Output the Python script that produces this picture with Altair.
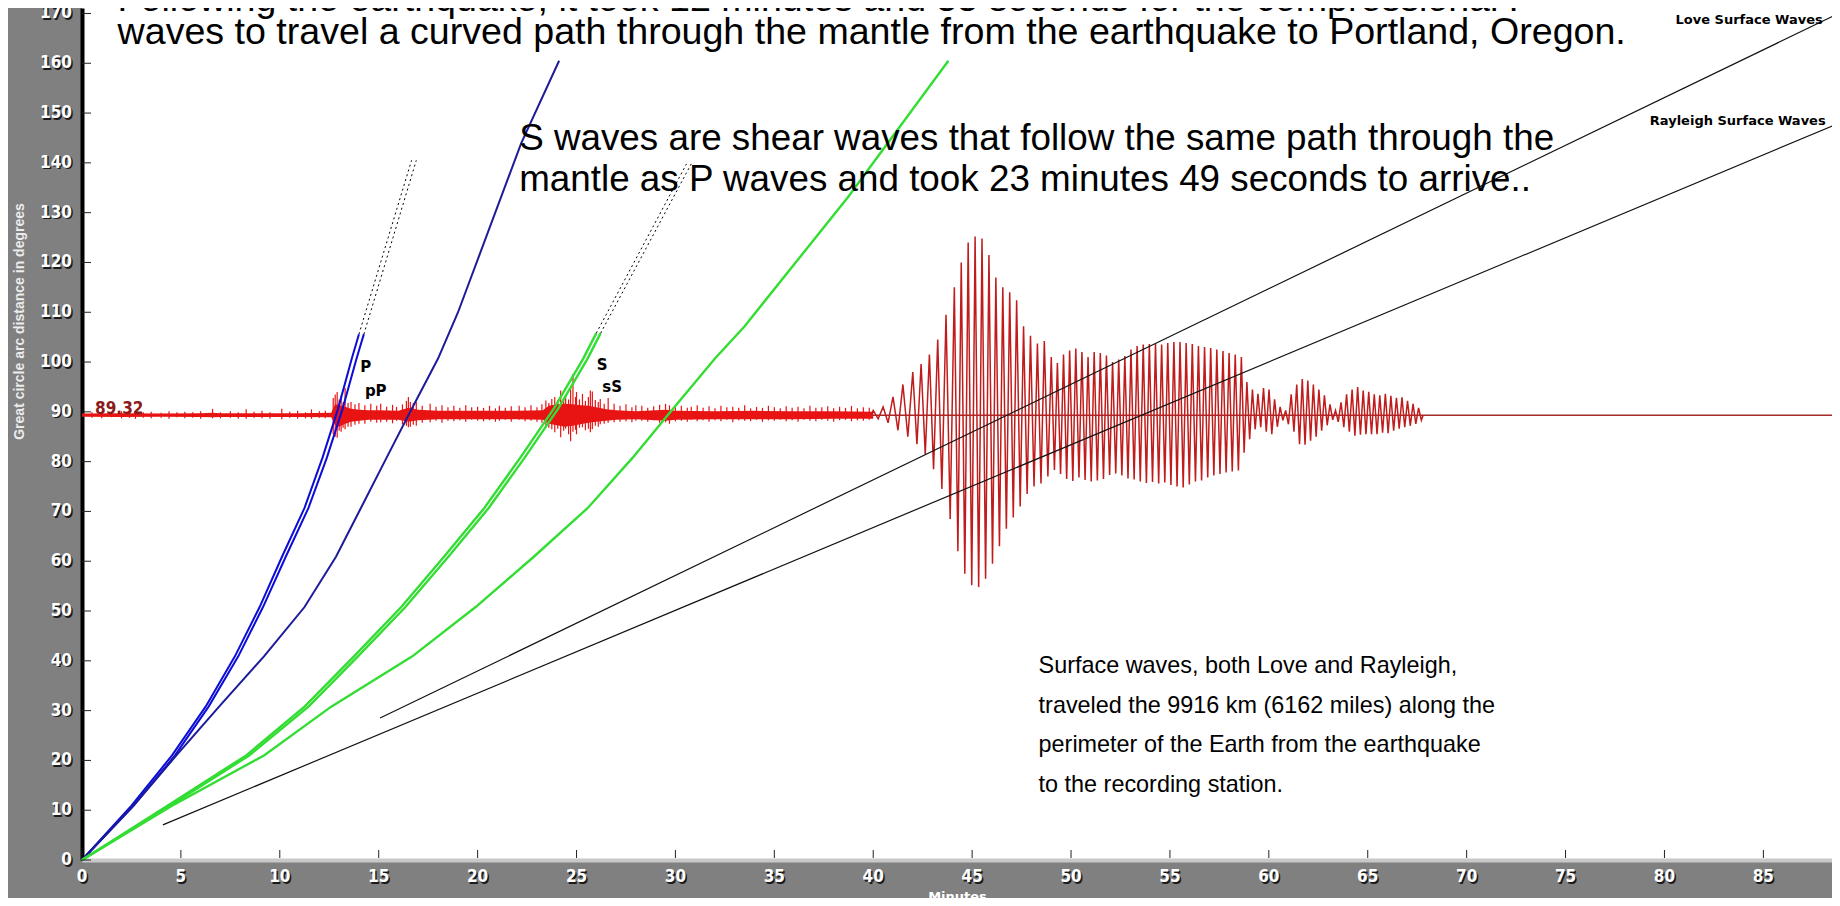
import altair as alt
import pandas as pd

W, H = 1750, 852
X_MAX, Y_MAX = 88.47, 171.1
COND = "DejaVu Sans Condensed, DejaVu Sans, sans-serif"
ARIAL = "Liberation Sans, Arial, sans-serif"
UI = "DejaVu Sans, Verdana, sans-serif"

x_ticks = [0, 5, 10, 15, 20, 25, 30, 35, 40, 45, 50, 55, 60, 65, 70, 75, 80, 85]
y_ticks = [0, 10, 20, 30, 40, 50, 60, 70, 80, 90, 100, 110, 120, 130, 140, 150, 160, 170]

# travel-time curves (minutes, degrees)
P_t = [0, 2.5, 4.55, 6.25, 7.73, 8.98, 10.11, 11.25, 12.16, 12.95, 13.64, 14.0]
P_d = [0, 10.9, 21.0, 30.8, 40.9, 50.8, 60.9, 70.7, 80.8, 90.7, 100.7, 105.6]
pP_t = [0, 2.6, 4.7, 6.4, 7.9, 9.15, 10.3, 11.45, 12.38, 13.18, 13.88, 14.25]
pP_d = [0, 10.9, 21.0, 30.8, 40.9, 50.8, 60.9, 70.7, 80.8, 90.7, 100.7, 105.6]
PP_t = [0, 2.6, 4.77, 6.93, 9.2, 11.25, 12.84, 14.1, 15.4, 16.5, 18.0, 19.0, 22.2, 24.12]
PP_d = [0, 10.9, 21.0, 30.8, 40.9, 50.8, 60.9, 70.7, 80.8, 89.3, 100.7, 109.9, 143.9, 160.5]
S_t = [0, 4.32, 8.3, 11.25, 13.75, 16.14, 18.3, 20.34, 22.16, 23.86, 25.34, 26.0]
S_d = [0, 10.9, 21.0, 30.8, 40.9, 50.8, 60.9, 70.7, 80.8, 90.7, 100.7, 105.8]
sS_t = [0, 4.45, 8.45, 11.45, 13.95, 16.35, 18.52, 20.56, 22.38, 24.08, 25.56, 26.22]
sS_d = [0, 10.9, 21.0, 30.8, 40.9, 50.8, 60.9, 70.7, 80.8, 90.7, 100.7, 105.8]
SS_t = [0, 4.55, 9.2, 12.6, 16.7, 19.9, 22.84, 25.57, 27.84, 29.9, 32.0, 33.5, 38.7, 43.8]
SS_d = [0, 10.9, 21.0, 30.8, 40.9, 50.8, 60.9, 70.7, 80.8, 90.7, 100.7, 107.2, 133.0, 160.5]

# dotted continuations (shadow zone)
Pdot_a_t, Pdot_a_d = [14.0, 16.66], [105.6, 140.5]
Pdot_b_t, Pdot_b_d = [14.25, 16.9], [105.6, 140.5]
Sdot_a_t, Sdot_a_d = [26.0, 30.56], [105.8, 139.8]
Sdot_b_t, Sdot_b_d = [26.22, 30.8], [105.8, 139.8]

# surface-wave lines
love_t, love_d = [15.07, 88.9], [28.5, 170.2]
ray_t, ray_d = [4.09, 88.9], [7.05, 148.1]

# seismogram
station_deg = 89.32
noise_t = [0, 2, 4, 6, 6.6, 7, 9, 11, 12.6, 12.8, 13.0, 13.3, 13.6, 14.0, 14.5, 15, 16, 16.5, 17, 18,
           20, 22, 23.3, 23.6, 24.0, 24.4, 24.8, 25.2, 25.6, 26.0, 26.5, 27, 28, 29.5, 30, 32, 34, 36, 38, 40]
noise_hi = [89.65, 89.7, 89.65, 89.7, 89.8, 89.7, 89.7, 89.7, 89.8, 91.5, 91.3, 91.0, 90.6, 90.4, 90.3, 90.3,
            90.2, 90.8, 90.4, 90.2, 90.2, 90.2, 90.3, 91.2, 91.5, 91.6, 91.5, 91.3, 91.2, 90.9, 90.5, 90.3,
            90.1, 90.4, 90.2, 90.1, 90.2, 90.1, 90.1, 90.0]
noise_lo = [89.0, 88.95, 89.0, 88.95, 88.9, 88.95, 88.95, 88.95, 88.9, 87.3, 87.0, 87.6, 88.0, 88.2, 88.4, 88.4,
            88.4, 88.0, 88.3, 88.5, 88.5, 88.5, 88.4, 87.6, 87.3, 87.0, 87.2, 87.5, 87.8, 88.0, 88.2, 88.4,
            88.5, 88.2, 88.4, 88.5, 88.5, 88.5, 88.6, 88.6]
spikes = [
    (0.5, 89.9, 88.8), (1.0, 90.0, 88.7), (1.5, 89.8, 88.9), (2.0, 90.1, 88.7), (2.4, 89.9, 88.8),
    (2.7, 90.2, 88.6), (3.1, 89.9, 88.8), (3.5, 90.0, 88.7), (4.0, 89.8, 88.8), (4.4, 90.1, 88.6),
    (4.8, 89.9, 88.9), (5.2, 90.0, 88.7), (5.6, 89.9, 88.8), (6.0, 90.1, 88.6), (6.6, 90.6, 88.7),
    (7.0, 89.9, 88.7), (7.5, 90.1, 88.8), (7.9, 89.9, 88.6), (8.3, 90.5, 88.6), (8.7, 90.0, 88.8),
    (9.1, 90.2, 88.7), (9.5, 89.9, 88.6), (10.1, 90.6, 88.5), (10.5, 90.0, 88.8), (10.9, 90.2, 88.6),
    (11.3, 89.9, 88.7), (11.6, 90.5, 88.6), (12.0, 90.1, 88.8), (12.3, 90.2, 88.7),
    (12.7, 92.8, 85.5), (12.8, 93.5, 85.0), (12.9, 94.0, 84.8), (13.0, 92.5, 86.2), (13.1, 93.3, 86.0),
    (13.2, 92.0, 86.8), (13.3, 94.8, 86.5), (13.45, 91.8, 87.0), (13.6, 92.0, 87.0), (13.8, 91.5, 87.4),
    (14.0, 91.8, 87.6), (14.3, 91.3, 87.6), (14.6, 91.6, 88.0), (14.9, 91.2, 87.8), (15.1, 91.6, 87.9),
    (15.4, 91.0, 88.0), (15.7, 91.4, 87.7), (15.9, 91.0, 88.2), (16.2, 91.5, 87.5), (16.4, 92.2, 87.2),
    (16.5, 93.0, 86.9), (16.6, 92.0, 87.0), (16.75, 91.8, 87.4), (16.9, 92.0, 87.2), (17.2, 91.2, 87.8),
    (17.6, 91.6, 87.9), (17.9, 91.0, 88.2), (18.2, 91.3, 87.8), (18.5, 90.9, 88.2), (18.8, 91.2, 88.1),
    (19.1, 90.8, 88.3), (19.4, 91.3, 88.0), (19.7, 90.9, 88.4), (20.0, 91.0, 88.2), (20.3, 90.8, 88.1),
    (20.6, 91.2, 88.3), (20.9, 90.7, 88.0), (21.1, 91.2, 88.2), (21.4, 90.8, 88.4), (21.7, 91.1, 88.0),
    (22.1, 91.2, 88.4), (22.4, 90.9, 88.1), (22.7, 91.3, 88.2), (23.0, 90.9, 88.0), (23.25, 91.5, 87.8),
    (23.45, 92.3, 87.2), (23.6, 91.8, 86.8), (23.75, 92.6, 86.5), (23.9, 93.0, 85.9), (24.05, 92.4, 86.6),
    (24.2, 94.3, 84.9), (24.35, 92.8, 86.2), (24.45, 93.4, 86.6), (24.6, 92.5, 85.5), (24.7, 95.0, 84.1),
    (24.82, 97.6, 86.0), (24.95, 93.0, 86.4), (25.0, 94.0, 85.5), (25.15, 92.5, 86.8), (25.3, 93.6, 86.9),
    (25.45, 92.2, 86.3), (25.6, 93.0, 86.6), (25.7, 94.3, 85.9), (25.8, 94.1, 86.5), (25.95, 92.4, 87.2),
    (26.1, 92.0, 87.0), (26.2, 92.6, 87.5), (26.4, 91.6, 87.6), (26.6, 92.8, 87.8), (26.9, 91.6, 87.9),
    (27.2, 91.2, 88.0), (27.5, 91.5, 88.1), (27.8, 90.9, 87.9), (28.0, 91.3, 88.2), (28.3, 91.2, 88.2),
    (28.6, 90.8, 88.0), (28.9, 91.1, 88.3), (29.2, 91.4, 87.8), (29.5, 91.6, 87.9), (29.7, 91.3, 87.6),
    (30.0, 90.9, 88.1), (30.3, 91.2, 88.2), (30.6, 90.8, 88.0), (30.8, 91.0, 88.4), (31.1, 91.3, 88.1),
    (31.4, 90.8, 88.3), (31.7, 91.1, 88.0), (32.0, 90.7, 88.3), (32.3, 91.2, 88.1), (32.6, 90.9, 88.4),
    (32.9, 91.0, 87.9), (33.2, 90.8, 88.3), (33.5, 91.3, 88.2), (33.8, 90.7, 88.1), (34.1, 91.0, 88.4),
    (34.4, 90.8, 88.0), (34.7, 91.2, 88.3), (35.0, 90.9, 88.2), (35.3, 90.7, 88.4), (35.6, 91.1, 88.1),
    (35.9, 90.8, 88.3), (36.2, 91.0, 88.0), (36.5, 90.7, 88.4), (36.8, 91.2, 88.2), (37.1, 90.8, 88.1),
    (37.4, 90.9, 88.4), (37.7, 91.1, 88.2), (38.0, 90.7, 88.0), (38.3, 91.0, 88.3), (38.6, 90.8, 88.4),
    (38.9, 91.2, 88.1), (39.2, 90.7, 88.3), (39.5, 90.9, 88.2), (39.8, 90.8, 88.4)]
surface_peaks = [
    (39.9, 89.32), (40.0, 90.3), (40.25, 88.6), (40.5, 91.0), (40.75, 87.8), (41.0, 93.0), (41.25, 86.3),
    (41.5, 95.5), (41.75, 85.0), (42.0, 98.0), (42.21, 83.5), (42.42, 99.6), (42.63, 81.5), (42.84, 101.5),
    (43.05, 78.5), (43.26, 104.5), (43.47, 74.5), (43.68, 109.5), (43.89, 68.5), (44.1, 115.0), (44.28, 62.0),
    (44.45, 120.0), (44.63, 57.5), (44.8, 124.0), (44.98, 55.2), (45.15, 125.2), (45.33, 54.8), (45.5, 124.8),
    (45.68, 56.5), (45.85, 121.5), (46.03, 59.5), (46.2, 117.0), (46.38, 63.0), (46.55, 115.0), (46.73, 66.5),
    (46.9, 114.0), (47.08, 68.8), (47.25, 112.4), (47.43, 71.0), (47.6, 107.2), (47.78, 73.5), (47.95, 105.3),
    (48.13, 75.0), (48.3, 103.7), (48.48, 75.6), (48.65, 104.2), (48.83, 77.0), (49.0, 101.0), (49.16, 78.3),
    (49.31, 99.8), (49.47, 77.5), (49.62, 101.5), (49.78, 76.5), (49.93, 102.3), (50.09, 76.1), (50.24, 102.7),
    (50.4, 76.8), (50.55, 102.0), (50.71, 76.3), (50.86, 101.0), (51.02, 76.0), (51.17, 102.0), (51.33, 76.2),
    (51.48, 101.8), (51.64, 76.5), (51.79, 101.3), (51.95, 77.3), (52.1, 100.0), (52.26, 77.6), (52.41, 100.5),
    (52.57, 77.2), (52.72, 101.2), (52.88, 76.6), (53.03, 102.5), (53.19, 76.4), (53.34, 103.2), (53.5, 76.0),
    (53.65, 103.5), (53.81, 75.7), (53.96, 103.6), (54.12, 75.9), (54.27, 103.7), (54.43, 75.6), (54.58, 103.5),
    (54.74, 75.8), (54.89, 103.8), (55.05, 75.3), (55.2, 104.0), (55.36, 75.0), (55.51, 104.0), (55.67, 74.8),
    (55.82, 103.8), (55.98, 75.4), (56.13, 103.6), (56.29, 76.0), (56.44, 103.2), (56.6, 76.2), (56.75, 103.0),
    (56.91, 76.8), (57.06, 102.8), (57.22, 77.2), (57.37, 102.5), (57.53, 77.5), (57.68, 102.2), (57.84, 77.8),
    (57.99, 101.8), (58.15, 78.0), (58.3, 101.5), (58.46, 78.2), (58.61, 101.0), (58.75, 81.8), (58.89, 96.0),
    (59.03, 84.5), (59.17, 94.5), (59.31, 86.5), (59.45, 93.6), (59.59, 86.9), (59.73, 94.8), (59.87, 86.0),
    (60.01, 94.5), (60.15, 85.5), (60.29, 92.5), (60.43, 87.0), (60.57, 91.0), (60.71, 88.3), (60.85, 90.3),
    (60.99, 87.5), (61.13, 93.5), (61.27, 86.0), (61.41, 95.5), (61.55, 83.5), (61.69, 96.6), (61.83, 83.4),
    (61.97, 96.3), (62.11, 84.2), (62.25, 95.5), (62.39, 85.0), (62.53, 94.5), (62.67, 86.2), (62.81, 93.3),
    (62.95, 87.3), (63.09, 91.5), (63.23, 88.4), (63.37, 90.3), (63.51, 88.0), (63.65, 91.9), (63.79, 86.9),
    (63.93, 93.5), (64.07, 86.0), (64.21, 94.5), (64.35, 85.2), (64.49, 95.0), (64.63, 85.4), (64.77, 94.3),
    (64.91, 85.5), (65.05, 94.0), (65.19, 85.5), (65.33, 93.5), (65.47, 85.5), (65.61, 93.3), (65.75, 85.8),
    (65.89, 93.6), (66.03, 85.7), (66.17, 93.2), (66.31, 86.2), (66.45, 92.8), (66.59, 86.6), (66.73, 92.9),
    (66.87, 86.9), (67.01, 92.2), (67.15, 87.2), (67.29, 91.6), (67.43, 87.6), (67.57, 90.8), (67.71, 88.3),
    (67.8, 89.32)]

# annotation texts (position in minutes / degrees)
top_lines = ["Following the earthquake, it took 12 minutes and 55 seconds for the compressional P",
             "waves to travel a curved path through the mantle from the earthquake to Portland, Oregon."]
top_t, top_d = [1.8, 1.8], [170.5, 163.9]
s_lines = ["S waves are shear waves that follow the same path through the",
           "mantle as P waves and took 23 minutes 49 seconds to arrive.."]
s_t, s_d = [22.1, 22.1], [142.6, 134.4]
surf_lines = ["Surface waves, both Love and Rayleigh,",
              "traveled the 9916 km (6162 miles) along the",
              "perimeter of the Earth from the earthquake",
              "to the recording station."]
surf_t, surf_d = [48.36, 48.36, 48.36, 48.36], [37.6, 29.6, 21.6, 13.6]
phase_labels = ["P", "pP", "S", "sS"]
phase_t, phase_d = [14.35, 14.85, 26.3, 26.8], [99.0, 94.1, 99.5, 95.0]
wave_labels = ["Love Surface Waves", "Rayleigh Surface Waves"]
wave_t, wave_d = [88.0, 88.15], [168.7, 148.4]

xs = alt.Scale(domain=[0, X_MAX], nice=False, zero=False)
ys = alt.Scale(domain=[0, Y_MAX], nice=False, zero=False)

x_axis = alt.Axis(values=x_ticks, title="Minutes", grid=False, ticks=False, labels=False,
                  domainColor="#c8c8c8", domainWidth=4, titleColor="white", titleFont=UI,
                  titleFontSize=13, titleFontWeight="bold", titleY=30, titleBaseline="top")
y_axis = alt.Axis(values=y_ticks, title="Great circle arc distance in degrees", grid=False, ticks=False,
                  labels=False, domainColor="black", domainWidth=4, titleColor="#ececec",
                  titleFont=ARIAL, titleFontSize=14, titleFontWeight="bold", titleX=-63, titleY=313,
                  titleAngle=270, titleAlign="center", titleBaseline="middle")


def XE(field="t"):
    return alt.X(f"{field}:Q", scale=xs, axis=x_axis)


def YE(field="d"):
    return alt.Y(f"{field}:Q", scale=ys, axis=y_axis)


def curve(ts, ds, color, width, dash=None, clip=False):
    df = pd.DataFrame({"t": ts, "d": ds, "i": list(range(len(ts)))})
    kw = dict(color=color, strokeWidth=width, clip=clip)
    if dash:
        kw["strokeDash"] = dash
    return alt.Chart(df).mark_line(**kw).encode(x=XE(), y=YE(), order="i:Q")


def texts(lines, ts, ds, **kw):
    df = pd.DataFrame({"t": ts, "d": ds, "txt": lines})
    return alt.Chart(df).mark_text(**kw).encode(x=XE(), y=YE(), text="txt:N")


base_df = pd.DataFrame({"t": [0.0], "t2": [X_MAX], "d": [station_deg]})
baseline = alt.Chart(base_df).mark_rule(color="#a52a2a", strokeWidth=1.5).encode(
    x=XE(), x2="t2:Q", y=YE())

noise_df = pd.DataFrame({"t": noise_t, "hi": noise_hi, "lo": noise_lo})
noise = alt.Chart(noise_df).mark_area(color="#e81414", opacity=1).encode(x=XE(), y=YE("hi"), y2="lo:Q")
spike_df = pd.DataFrame(spikes, columns=["t", "hi", "lo"])
spike = alt.Chart(spike_df).mark_rule(color="#e81414", strokeWidth=1.2).encode(x=XE(), y=YE("hi"), y2="lo:Q")
sw_df = pd.DataFrame(surface_peaks, columns=["t", "d"])
sw_df["i"] = range(len(sw_df))
surface = alt.Chart(sw_df).mark_line(color="#c01c1c", strokeWidth=1.5).encode(x=XE(), y=YE(), order="i:Q")

ytick_df = pd.DataFrame({"v": y_ticks, "txt": [str(v) for v in y_ticks]})
yticks = alt.Chart(ytick_df).mark_rule(color="#222222", strokeWidth=1).encode(
    y=YE("v"), x=alt.value(0), x2=alt.value(9))
xtick_df = pd.DataFrame({"v": x_ticks, "txt": [str(v) for v in x_ticks]})
xticks = alt.Chart(xtick_df).mark_rule(color="#222222", strokeWidth=1).encode(
    x=XE("v"), y=alt.value(H - 10), y2=alt.value(H - 2))


def tick_labels(color, shift):
    ylab = alt.Chart(ytick_df).mark_text(
        align="right", baseline="middle", font=COND, fontSize=17, fontWeight="bold", color=color,
        dx=shift, dy=shift).encode(y=YE("v"), x=alt.value(-10), text="txt:N")
    xlab = alt.Chart(xtick_df).mark_text(
        align="center", baseline="middle", font=COND, fontSize=17, fontWeight="bold", color=color,
        dx=shift, dy=shift).encode(x=XE("v"), y=alt.value(H + 17), text="txt:N")
    return [ylab, xlab]


BLUE, NAVY, GREEN = "#0c0cd8", "#1c1c9a", "#33dd33"
layers = [
    baseline, noise, spike, surface,
    curve(P_t, P_d, BLUE, 2), curve(pP_t, pP_d, BLUE, 2), curve(PP_t, PP_d, NAVY, 2),
    curve(S_t, S_d, GREEN, 2.4), curve(sS_t, sS_d, GREEN, 2.4), curve(SS_t, SS_d, GREEN, 2.4),
    curve(Pdot_a_t, Pdot_a_d, "black", 1, dash=[2, 3]), curve(Pdot_b_t, Pdot_b_d, "black", 1, dash=[2, 3]),
    curve(Sdot_a_t, Sdot_a_d, "black", 1, dash=[2, 3]), curve(Sdot_b_t, Sdot_b_d, "black", 1, dash=[2, 3]),
    curve(love_t, love_d, "#111111", 1.2, clip=True), curve(ray_t, ray_d, "#111111", 1.2, clip=True),
    yticks, xticks,
    *tick_labels("#1a1a1a", 1.5), *tick_labels("white", 0),
    texts(["89.32"], [0.66], [89.6], align="left", baseline="alphabetic", font=COND, fontSize=17,
          fontWeight="bold", color="#8b1a1a"),
    texts(phase_labels, phase_t, phase_d, align="center", baseline="middle", font=UI, fontSize=15,
          fontWeight="bold", color="black"),
    texts(wave_labels, wave_t, wave_d, align="right", baseline="middle", font=UI, fontSize=13,
          fontWeight="bold", color="black"),
    texts(top_lines, top_t, top_d, align="left", baseline="alphabetic", font=ARIAL, fontSize=37.6,
          color="black"),
    texts(s_lines, s_t, s_d, align="left", baseline="alphabetic", font=ARIAL, fontSize=36.8, color="black"),
    texts(surf_lines, surf_t, surf_d, align="left", baseline="alphabetic", font=ARIAL, fontSize=23.4,
          color="black"),
]

chart = alt.layer(*layers).properties(
    width=W, height=H, background="#808080",
    padding={"left": 74, "top": 0, "right": 0, "bottom": 38},
    autosize=alt.AutoSizeParams(type="none"),
).configure_view(fill="white", strokeWidth=0)

chart.save("out.html", embed_options={"renderer": "svg", "actions": False})
